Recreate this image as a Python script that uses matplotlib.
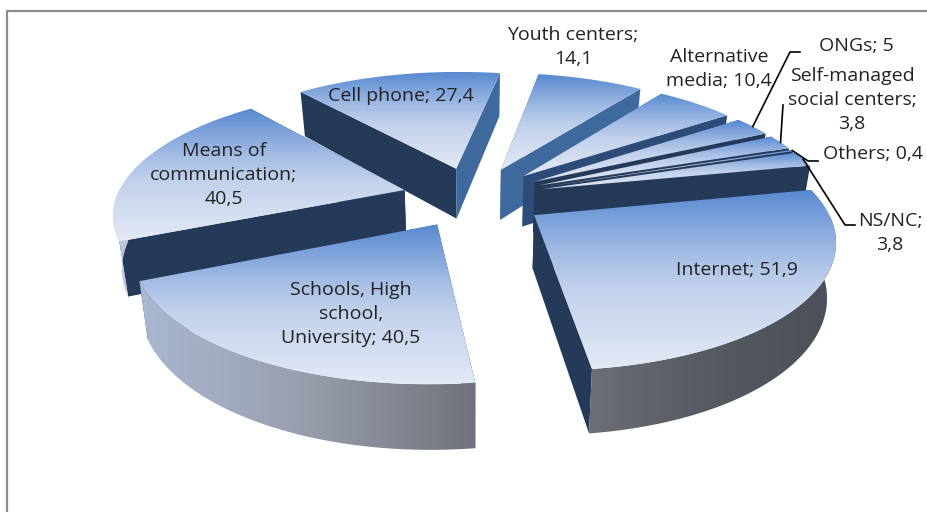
# coding: UTF-8
import numpy as np
import matplotlib
matplotlib.use('Agg')
import matplotlib.pyplot as plt
from matplotlib.colors import LinearSegmentedColormap
from matplotlib.patches import Polygon

# clockwise from the top, same order as the chart
names = ['Youth centers;\n', 'Alternative\nmedia; ', 'ONGs; ',
         'Self-managed\nsocial centers;\n', 'Others; ', 'NS/NC;\n',
         'Internet; ', 'Schools, High\nschool,\nUniversity; ',
         'Means of\ncommunication;\n', 'Cell phone; ']
values = [14.1, 10.4, 5, 3.8, 0.4, 3.8, 51.9, 40.5, 40.5, 27.4]

# fake 3D settings (pixels)
cx, cy = 474.0, 197.0
rx, ry = 288.0, 122.0
persp = 0.17
taper = 0.025
depth = 52.0
explode = 0.25
start_angle = 10.0

label_xy = [(573, 47), (719, 69), (856, 46), (852, 100), (873, 154),
            (890, 233), (737, 270), (351, 314), (224, 175), (401, 96)]

top_cmap = LinearSegmentedColormap.from_list('top', [
    (0.0, '#5789d1'), (0.35, '#a3bce4'), (0.55, '#c2d1ec'), (1.0, '#e3e9f5')])
wall_cmap = LinearSegmentedColormap.from_list('wall', [
    (0.0, '#c5cbdd'), (0.05, '#a9b6d0'), (0.26, '#9a9fae'), (0.51, '#6e7178'),
    (0.67, '#6a6d73'), (0.84, '#54585f'), (1.0, '#4c5058')])
wall_x0, wall_x1 = 110, 840


def project(x, y, z=0.0):
    s = 1.0 / (1.0 + persp * y)
    return cx + rx * x * s * (1.0 - taper * z), cy - ry * y * s + depth * z * s


def edge_color(angle):
    # the side walls get lighter toward the back
    a = angle % 360
    if a < 40:
        return '#3f6a9e'
    if a < 56:
        return '#2d4c78'
    return '#243a58'


fig = plt.figure(figsize=(9.27, 5.12), dpi=100)
ax = fig.add_axes([0, 0, 1, 1])

total = float(sum(values))
sweep = [v / total * 360.0 for v in values]
starts = start_angle + np.concatenate([[0], np.cumsum(sweep)[:-1]])
ends = starts + np.array(sweep)

slices = []
for i in range(len(values)):
    mid = np.radians((starts[i] + ends[i]) / 2)
    ox = explode * np.sin(mid)
    oy = explode * np.cos(mid)
    t = np.radians(np.linspace(starts[i], ends[i], 120))
    slices.append((np.cos(mid), i, ox, oy, t))

# back to front
slices.sort(key=lambda p: -p[0])
rims = {}
zo = 2
for _, i, ox, oy, t in slices:
    wx = ox + np.sin(t)
    wy = oy + np.cos(t)
    tx, ty = project(wx, wy)
    bx, by = project(wx, wy, 1.0)
    ax0, ay0 = project(ox, oy)
    ax1, ay1 = project(ox, oy, 1.0)
    rims[i] = (tx, ty)

    # radial walls
    for k, ang in ((0, starts[i]), (-1, ends[i])):
        ax.add_patch(Polygon([(ax0, ay0), (tx[k], ty[k]), (bx[k], by[k]), (ax1, ay1)],
                             closed=True, fc=edge_color(ang), ec='none', zorder=zo))
        zo += 1

    # outer wall, only the part of the rim that faces the viewer
    front = np.cos(t) < 0
    if front.sum() > 1:
        poly = Polygon(np.column_stack([np.r_[tx[front], bx[front][::-1]],
                                        np.r_[ty[front], by[front][::-1]]]),
                       closed=True, fc='none', ec='none', zorder=zo)
        ax.add_patch(poly)
        im = ax.imshow(np.linspace(0, 1, 256).reshape(1, -1), cmap=wall_cmap,
                       extent=[wall_x0, wall_x1, 512, 0], aspect='auto', zorder=zo)
        im.set_clip_path(poly)
        zo += 1

    # top surface
    poly = Polygon(np.column_stack([np.r_[ax0, tx], np.r_[ay0, ty]]),
                   closed=True, fc='none', ec='none', zorder=zo)
    ax.add_patch(poly)
    ytop = min(ay0, ty.min())
    ybot = max(ay0, ty.max())
    im = ax.imshow(np.linspace(0, 1, 256).reshape(-1, 1), cmap=top_cmap,
                   extent=[0, 927, ybot, ytop], aspect='auto', zorder=zo)
    im.set_clip_path(poly)
    zo += 1

# chart frame
ax.plot([7, 7, 927], [512, 11, 11], color='#8c8c8c', lw=1.6, zorder=1)


# leader lines start on the rim of their slice
def rim_mid(i):
    tx, ty = rims[i]
    return tx[len(tx) // 2], ty[len(ty) // 2]


lead = {2: [(790, 52), (800, 52)], 3: [(783, 105)],
        4: [(808, 161), (818, 161)], 5: [(845, 225), (855, 225)]}
for i, pts in lead.items():
    x0, y0 = rim_mid(i)
    xs = [x0] + [p[0] for p in pts]
    ys = [y0] + [p[1] for p in pts]
    ax.plot(xs, ys, color='black', lw=1.2, zorder=zo)
zo += 1

for i in range(len(values)):
    s = names[i] + str(values[i]).replace('.', ',')
    ax.text(label_xy[i][0], label_xy[i][1], s, ha='center', va='center',
            family='Open Sans', fontsize=14.0, color='#222222',
            linespacing=1.4, zorder=zo)

ax.set_xlim(0, 927)
ax.set_ylim(512, 0)
ax.axis('off')
fig.savefig('out.png', dpi=100)
